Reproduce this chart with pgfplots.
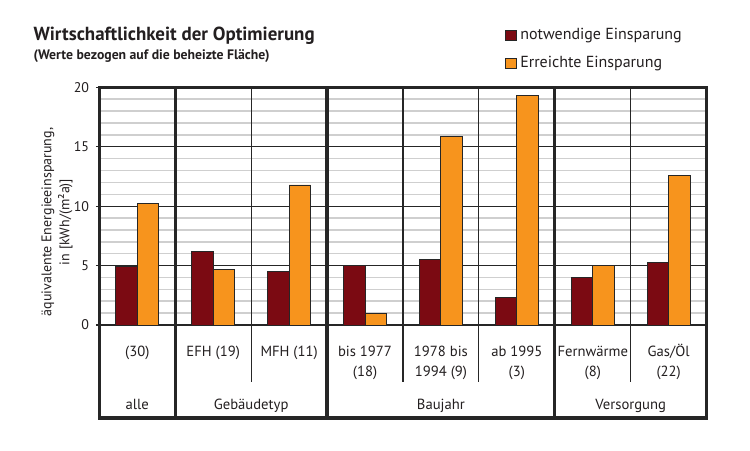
\documentclass[border=0pt]{standalone}
\usepackage{fontspec}
\setmainfont{PT Sans}
\usepackage{pgfplots}
\pgfplotsset{compat=1.18}
\definecolor{dunkelrot}{HTML}{7B0A12}
\definecolor{orangebar}{HTML}{F7941D}
\definecolor{rahmen}{HTML}{262626}
\definecolor{gitter}{HTML}{CFCFCF}
\definecolor{schrift}{HTML}{231F20}
\begin{document}
\begin{tikzpicture}
\begin{scope}[x=0.75pt,y=0.75pt]
\useasboundingbox (0,0) rectangle (750,450);
\fill[white] (0,0) rectangle (750,450);
% Titel
\node[anchor=base west,inner sep=0,text=schrift,font=\bfseries\fontsize{14.2}{16}\selectfont] at (33.3,409) {Wirtschaftlichkeit der Optimierung};
\node[anchor=base west,inner sep=0,text=schrift,font=\bfseries\fontsize{10.3}{12}\selectfont] at (33.3,390) {(Werte bezogen auf die beheizte Fläche)};
% Legende
\filldraw[fill=dunkelrot,draw=rahmen,line width=0.6pt] (505,410) rectangle (516,420);
\node[anchor=base west,inner sep=0,text=schrift,font=\fontsize{12}{14}\selectfont] at (520,410) {notwendige Einsparung};
\filldraw[fill=orangebar,draw=rahmen,line width=0.6pt] (505,382) rectangle (516,392);
\node[anchor=base west,inner sep=0,text=schrift,font=\fontsize{12}{14}\selectfont] at (520,382) {Erreichte Einsparung};
% y-Beschriftung
\node[rotate=90,align=center,text=schrift,font=\fontsize{10.5}{13.5}\selectfont] at (57,228) {äquivalente Energieeinsparung,\\in [kWh/(m²a)]};
\end{scope}

\begin{axis}[
    at={(74.475pt,93.75pt)}, anchor=south west, scale only axis,
    width=455.5pt, height=178.3pt,
    xmin=-0.5, xmax=7.5, ymin=0, ymax=20,
    xtick=\empty, ytick={0,5,...,20},
    minor y tick num=4,
    ymajorgrids, yminorgrids,
    major grid style={rahmen, line width=0.9pt},
    minor grid style={gitter, line width=1.1pt},
    axis line style={draw=none},
    ytick pos=left,
    tick align=outside, major tick length=2.6pt, minor tick length=0pt,
    tick style={rahmen, line width=0.9pt},
    yticklabel style={font=\fontsize{10.5}{12}\selectfont, text=schrift, xshift=-1.5pt},
    /pgf/number format/assume math mode=true,
    ybar=0pt, bar width=16.1pt,
    clip=false,
    ]
    % notwendige Einsparung
    \addplot[fill=dunkelrot, draw=rahmen, line width=0.7pt]
    coordinates {(0,4.90) (1,6.17) (2,4.49) (3,4.99) (4,5.52) (5,2.30) (6,3.98) (7,5.24)};
    % Erreichte Einsparung
    \addplot[fill=orangebar, draw=rahmen, line width=0.7pt]
    coordinates {(0,10.24) (1,4.63) (2,11.78) (3,0.98) (4,15.85) (5,19.27) (6,4.99) (7,12.57)};

    % Trennlinien
    \draw[rahmen, line width=0.9pt] (axis cs:1.5,20) -- (axis cs:1.5,-4.77);
    \draw[rahmen, line width=0.9pt] (axis cs:3.5,20) -- (axis cs:3.5,-4.77);
    \draw[rahmen, line width=0.9pt] (axis cs:4.5,20) -- (axis cs:4.5,-4.77);
    \draw[rahmen, line width=0.9pt] (axis cs:6.5,20) -- (axis cs:6.5,-4.77);
    \draw[rahmen, line width=2.4pt] (axis cs:0.5,20) -- (axis cs:0.5,-7.83);
    \draw[rahmen, line width=2.4pt] (axis cs:2.5,20) -- (axis cs:2.5,-7.83);
    \draw[rahmen, line width=2.4pt] (axis cs:5.5,20) -- (axis cs:5.5,-7.83);
    \draw[rahmen, line width=2.4pt] (axis cs:-0.5,-7.83) rectangle (axis cs:7.5,20);

    % Kategorien
    \begin{scope}[every node/.style={text=schrift, font=\fontsize{11}{13}\selectfont, inner sep=0, anchor=base}]
    \node at (axis cs:0,-2.67) {(30)};
    \node at (axis cs:1,-2.67) {EFH (19)};
    \node at (axis cs:2,-2.67) {MFH (11)};
    \node at (axis cs:3,-2.67) {bis 1977};
    \node at (axis cs:3,-4.35) {(18)};
    \node at (axis cs:4,-2.67) {1978 bis};
    \node at (axis cs:4,-4.35) {1994 (9)};
    \node at (axis cs:5,-2.67) {ab 1995};
    \node at (axis cs:5,-4.35) {(3)};
    \node at (axis cs:6,-2.67) {Fernwärme};
    \node at (axis cs:6,-4.35) {(8)};
    \node at (axis cs:7,-2.67) {Gas/Öl};
    \node at (axis cs:7,-4.35) {(22)};
    \node at (axis cs:0,-7.15) {alle};
    \node at (axis cs:1.5,-7.15) {Gebäudetyp};
    \node at (axis cs:4,-7.15) {Baujahr};
    \node at (axis cs:6.5,-7.15) {Versorgung};
    \end{scope}
\end{axis}
\end{tikzpicture}
\end{document}
